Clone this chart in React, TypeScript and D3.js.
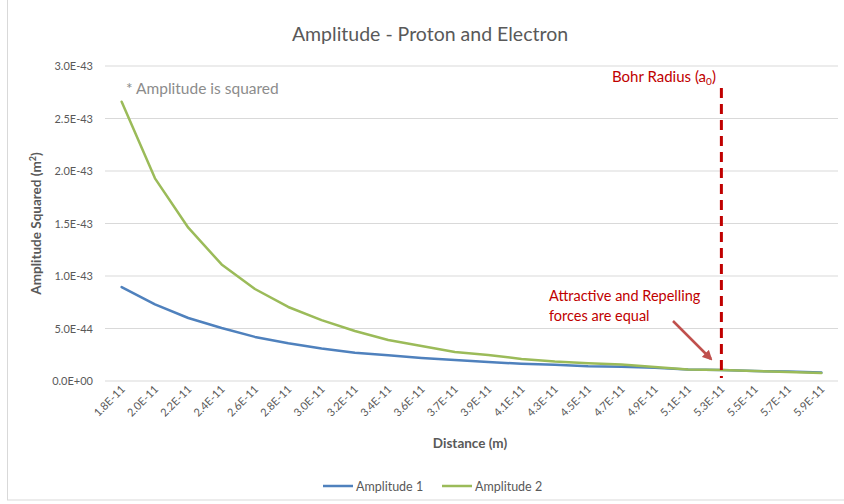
import React from "react";
import * as d3 from "d3";

const categories = ["1.8E-11","2.0E-11","2.2E-11","2.4E-11","2.6E-11","2.8E-11","3.0E-11","3.2E-11","3.4E-11","3.6E-11","3.7E-11","3.9E-11","4.1E-11","4.3E-11","4.5E-11","4.7E-11","4.9E-11","5.1E-11","5.3E-11","5.5E-11","5.7E-11","5.9E-11"];
const amplitude1 = [0.895,0.73,0.60,0.505,0.42,0.36,0.31,0.27,0.245,0.22,0.20,0.18,0.165,0.155,0.14,0.135,0.125,0.11,0.105,0.095,0.09,0.08].map(v => v * 1e-43);
const amplitude2 = [2.66,1.93,1.46,1.11,0.876,0.705,0.58,0.476,0.39,0.333,0.276,0.248,0.21,0.186,0.17,0.157,0.133,0.11,0.105,0.095,0.085,0.076].map(v => v * 1e-43);
const yTicks = [0, 0.5e-43, 1.0e-43, 1.5e-43, 2.0e-43, 2.5e-43, 3.0e-43];
const yTickLabels = ["0.0E+00","5.0E-44","1.0E-43","1.5E-43","2.0E-43","2.5E-43","3.0E-43"];
const bohrCategory = "5.3E-11";
const seriesNames = ["Amplitude 1", "Amplitude 2"];

const FONT = "Lato, 'Open Sans', sans-serif";

export default function App() {
  const W = 844, H = 504;
  const left = 105, right = 838, top = 66, bottom = 381;
  const x = d3.scaleBand<string>().domain(categories).range([left, right]);
  const y = d3.scaleLinear().domain([0, 3e-43]).range([bottom, top]);
  const cx = (c: string) => (x(c) as number) + x.bandwidth() / 2;
  const line = d3.line<number>().x((_, i) => cx(categories[i])).y(d => y(d));
  const colors = ["#4f81bd", "#9bbb59"];
  const bx = cx(bohrCategory);

  return (
    <svg width={W} height={H} style={{ position: "absolute", left: 0, top: 0, fontFamily: FONT }}>
      <rect x={0} y={0} width={W} height={H} fill="#fff" />
      <rect x={7.5} y={-1} width={W + 5} height={H - 3} fill="none" stroke="#d9d9d9" strokeWidth={1} />
      <text x={430} y={41} textAnchor="middle" fontSize={19.5} fill="#595959">Amplitude - Proton and Electron</text>
      {yTicks.map((t, i) => (
        <g key={i}>
          <line x1={left} x2={right} y1={y(t)} y2={y(t)} stroke="#d9d9d9" strokeWidth={1} />
          <text x={93} y={y(t) + 4} textAnchor="end" fontSize={11} fill="#595959">{yTickLabels[i]}</text>
        </g>
      ))}
      {categories.map(c => (
        <text key={c} transform={`translate(${cx(c) + 4},${bottom + 9}) rotate(-45)`} textAnchor="end" fontSize={11} fill="#595959">{c}</text>
      ))}
      <text x={470} y={448} textAnchor="middle" fontSize={13.5} fontWeight="bold" fill="#595959">Distance (m)</text>
      <text transform={`translate(41,${(top + bottom) / 2}) rotate(-90)`} textAnchor="middle" fontSize={13.5} fontWeight="bold" fill="#595959">Amplitude Squared (m<tspan fontSize={9} dy={-5}>2</tspan><tspan dy={5}>)</tspan></text>
      {[amplitude1, amplitude2].map((s, i) => (
        <path key={i} d={line(s) || ""} fill="none" stroke={colors[i]} strokeWidth={2.5} strokeLinejoin="round" strokeLinecap="round" />
      ))}
      <line x1={bx} x2={bx} y1={88} y2={378} stroke="#c00000" strokeWidth={3} strokeDasharray="10,6" />
      <text x={612} y={82} fontSize={15} fill="#c00000">Bohr Radius (a<tspan fontSize={10} dy={3}>0</tspan><tspan dy={-3}>)</tspan></text>
      <text x={126} y={94} fontSize={15.5} fill="#8c8c8c">* Amplitude is squared</text>
      <text x={549} y={301} fontSize={14.5} fill="#c00000">Attractive and Repelling</text>
      <text x={549} y={321} fontSize={14.5} fill="#c00000">forces are equal</text>
      <defs>
        <marker id="arr" viewBox="0 0 10 10" refX={8} refY={5} markerWidth={4} markerHeight={4} orient="auto">
          <path d="M0,0 L10,5 L0,10 z" fill="#c0504d" />
        </marker>
      </defs>
      <line x1={673} y1={321} x2={711} y2={359} stroke="#c0504d" strokeWidth={2.5} markerEnd="url(#arr)" />
      {seriesNames.map((n, i) => (
        <g key={n} transform={`translate(${323 + i * 119},486)`}>
          <line x1={0} x2={30} y1={0} y2={0} stroke={colors[i]} strokeWidth={2.5} />
          <text x={33} y={4.5} fontSize={12.5} fill="#595959">{n}</text>
        </g>
      ))}
    </svg>
  );
}
